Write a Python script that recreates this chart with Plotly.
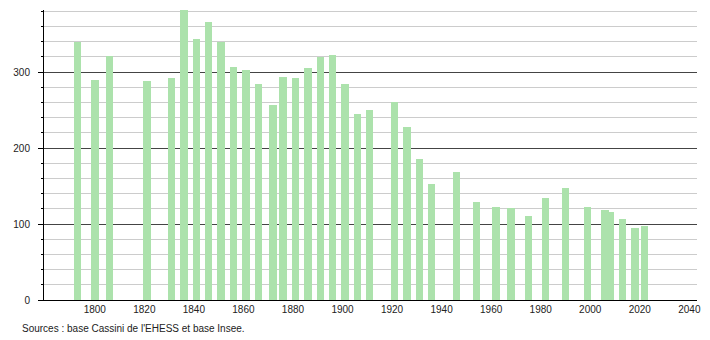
import plotly.graph_objects as go

years = [1793, 1800, 1806, 1821, 1831, 1836, 1841, 1846, 1851, 1856,
         1861, 1866, 1872, 1876, 1881, 1886, 1891, 1896, 1901, 1906,
         1911, 1921, 1926, 1931, 1936, 1946, 1954, 1962, 1968, 1975,
         1982, 1990, 1999, 2006, 2008, 2013, 2018, 2022]
population = [340, 290, 321, 288, 292, 381, 343, 366, 340, 306,
              303, 284, 257, 293, 292, 305, 320, 323, 284, 245,
              250, 260, 228, 185, 153, 169, 129, 122, 121, 111,
              134, 148, 122, 118, 116, 106, 95, 97]
x_ticks = [1800, 1820, 1840, 1860, 1880, 1900, 1920, 1940, 1960, 1980, 2000, 2020, 2040]
y_ticks = [0, 100, 200, 300]
source_text = "Sources : base Cassini de l'EHESS et base Insee."

fig = go.Figure(go.Bar(
    x=years, y=population, width=3,
    marker=dict(color="rgb(172,226,172)", line=dict(width=0)),
    hoverinfo="x+y",
))

W, H = 710, 340
ml, mr, mt, mb = 44, 9, 10, 40
pw = W - ml - mr
ph = H - mt - mb

fig.update_layout(
    width=W, height=H,
    margin=dict(l=ml, r=mr, t=mt, b=mb, pad=0),
    paper_bgcolor="white", plot_bgcolor="white",
    showlegend=False,
    font=dict(family="Liberation Sans, Arial, sans-serif", size=10, color="#222"),
    xaxis=dict(
        range=[1779.5, 2043.1],
        tickvals=x_ticks, ticktext=[str(v) for v in x_ticks],
        showgrid=False, zeroline=False,
        showline=True, linecolor="black", linewidth=1,
        ticks="", fixedrange=True,
    ),
    yaxis=dict(
        range=[0, 381.6],
        tickvals=y_ticks,
        showgrid=True, gridcolor="#444", gridwidth=1,
        zeroline=False,
        showline=True, linecolor="black", linewidth=1,
        ticks="outside", ticklen=5, tickcolor="black", tickwidth=1,
        ticklabelstandoff=6,
        minor=dict(dtick=20, tick0=0, showgrid=True, gridcolor="#cccccc",
                   gridwidth=1, ticks="outside", ticklen=2, tickcolor="black"),
        fixedrange=True,
    ),
    bargap=0,
)

fig.add_annotation(
    text=source_text, xref="paper", yref="paper",
    x=(20 - ml) / pw, y=(H - mb - 328) / ph,
    xanchor="left", yanchor="middle", showarrow=False,
    font=dict(size=10, color="#222"),
)

fig.write_html("out.html")
